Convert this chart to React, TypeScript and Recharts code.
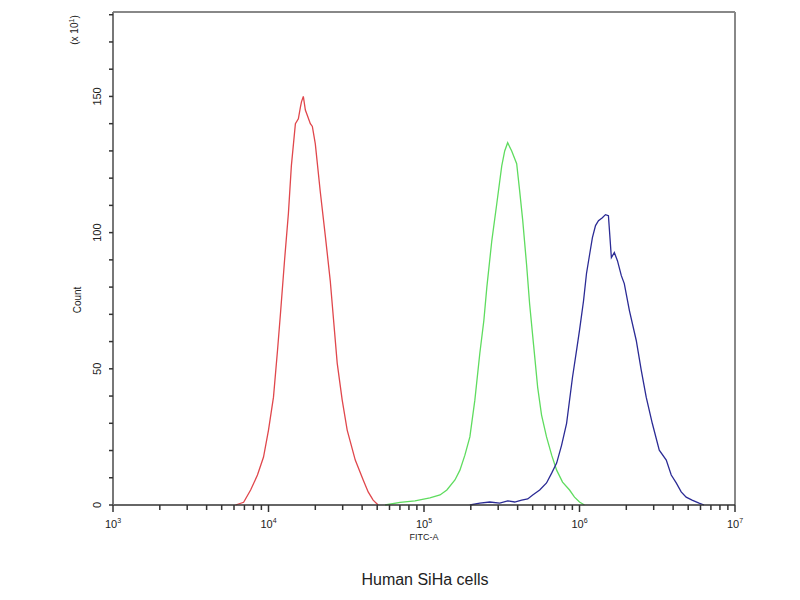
import React from 'react';
import { LineChart, Line, XAxis, YAxis, ReferenceLine } from 'recharts';

// x = log10(FITC-A), y = count (x10^1)
const redX = [3.788, 3.84, 3.885, 3.929, 3.968, 4.0, 4.032, 4.058, 4.077, 4.103, 4.128, 4.147, 4.173, 4.192, 4.205, 4.212, 4.224, 4.237, 4.25, 4.269, 4.282, 4.301, 4.333, 4.365, 4.397, 4.442, 4.474, 4.506, 4.558, 4.609, 4.641, 4.673, 4.705];
const redY = [0, 1, 5.5, 11, 17.6, 27.5, 39.6, 56.8, 70.3, 89.7, 107, 124.5, 140, 141.8, 146, 148, 150, 145, 143, 140, 139, 132.6, 115, 99, 82.4, 52, 38.5, 27.5, 16.5, 9.2, 4.8, 1.8, 0];

const greenX = [4.75, 4.846, 4.942, 5.038, 5.103, 5.147, 5.199, 5.231, 5.263, 5.295, 5.327, 5.359, 5.385, 5.404, 5.436, 5.468, 5.5, 5.519, 5.538, 5.564, 5.596, 5.615, 5.635, 5.66, 5.679, 5.705, 5.731, 5.756, 5.788, 5.821, 5.853, 5.891, 5.936, 5.968, 6.0, 6.032];
const greenY = [0, 1, 1.5, 2.6, 3.7, 5.5, 9.2, 12.8, 18.3, 25, 38.5, 55.7, 67.8, 79.9, 97, 110.6, 124.5, 130, 133, 130, 125.3, 115.4, 104.4, 88, 74, 58.6, 43.2, 33, 25, 18.3, 12.8, 8.4, 5.5, 2.9, 1.1, 0];

const blueX = [5.295, 5.359, 5.423, 5.487, 5.538, 5.583, 5.628, 5.667, 5.699, 5.744, 5.788, 5.821, 5.853, 5.885, 5.917, 5.955, 5.981, 6.0, 6.026, 6.045, 6.064, 6.083, 6.103, 6.122, 6.147, 6.167, 6.186, 6.205, 6.224, 6.244, 6.269, 6.288, 6.321, 6.365, 6.397, 6.429, 6.468, 6.513, 6.558, 6.59, 6.622, 6.654, 6.686, 6.724, 6.769, 6.801];
const blueY = [0, 0.7, 1.1, 0.7, 1.5, 1.1, 1.8, 2.2, 3.7, 5.5, 8.1, 11.7, 15.4, 22, 30, 46.9, 56.8, 64.1, 75, 85, 91.6, 98.2, 102.6, 104.4, 105.5, 106.6, 106.2, 90.8, 92.7, 89.7, 84.2, 81.3, 71.4, 60.4, 49.5, 39.6, 30, 20.1, 16.5, 11, 8.1, 4.8, 2.9, 1.8, 0.7, 0];

const decades = [3, 4, 5, 6, 7];
const yTicks = [0, 10, 20, 30, 40, 50, 60, 70, 80, 90, 100, 110, 120, 130, 140, 150, 160, 170, 180];
const yLabels = [0, 50, 100, 150];

const toPoints = (xs: number[], ys: number[]) => xs.map((x, i) => ({ x, y: ys[i] }));

const xTicks: number[] = [];
decades.forEach((d) => {
  if (d === 7) {
    xTicks.push(7);
    return;
  }
  for (let k = 1; k <= 9; k++) xTicks.push(d + Math.log10(k));
});

const font = '"Liberation Sans", Arial, sans-serif';

const XTick = (props: any) => {
  const { x, y, payload } = props;
  const v = payload.value;
  const major = Math.abs(v - Math.round(v)) < 1e-6;
  return (
    <g>
      <line x1={x} x2={x} y1={y} y2={y + (major ? 7 : 5)} stroke="#333" strokeWidth={1.5} />
      {major && (
        <text x={x} y={y + 23} textAnchor="middle" fontSize={11} fill="#222" stroke="none" fontFamily={font}>
          10
          <tspan dy={-5} fontSize={7}>{Math.round(v)}</tspan>
        </text>
      )}
    </g>
  );
};

const YTick = (props: any) => {
  const { x, y, payload } = props;
  const v = payload.value;
  const lab = yLabels.includes(v);
  return (
    <g>
      <line x1={x} x2={x - 4} y1={y} y2={y} stroke="#333" strokeWidth={1.5} />
      {lab && (
        <text x={x - 12} y={y} transform={`rotate(-90 ${x - 12} ${y})`} textAnchor="middle" fontSize={11} fill="#222" stroke="none" fontFamily={font}>
          {v}
        </text>
      )}
    </g>
  );
};

export default function App() {
  return (
    <div style={{ position: 'absolute', left: 0, top: 0, width: 800, height: 600, background: '#fff' }}>
      <LineChart width={800} height={600} margin={{ top: 12, right: 65, left: 60, bottom: 65 }}>
        <XAxis
          dataKey="x"
          type="number"
          domain={[3, 7]}
          ticks={xTicks}
          interval={0}
          tick={<XTick />}
          tickLine={false}
          tickSize={0}
          tickMargin={0}
          height={30}
          axisLine={{ stroke: '#333', strokeWidth: 1.5 }}
          allowDuplicatedCategory={false}
        />
        <YAxis
          dataKey="y"
          type="number"
          domain={[0, 181]}
          ticks={yTicks}
          interval={0}
          tick={<YTick />}
          tickLine={false}
          tickSize={0}
          tickMargin={0}
          width={53}
          axisLine={{ stroke: '#777', strokeWidth: 2 }}
        />
        <ReferenceLine y={181} stroke="#888" strokeWidth={2} ifOverflow="visible" />
        <ReferenceLine x={7} stroke="#888" strokeWidth={2} ifOverflow="visible" />
        <Line data={toPoints(redX, redY)} dataKey="y" type="linear" stroke="#e0474c" strokeWidth={1.3} dot={false} isAnimationActive={false} />
        <Line data={toPoints(greenX, greenY)} dataKey="y" type="linear" stroke="#5fdc5f" strokeWidth={1.3} dot={false} isAnimationActive={false} />
        <Line data={toPoints(blueX, blueY)} dataKey="y" type="linear" stroke="#2b2b95" strokeWidth={1.3} dot={false} isAnimationActive={false} />
      </LineChart>
      <svg width={800} height={600} style={{ position: 'absolute', left: 0, top: 0, pointerEvents: 'none' }}>
        <text x={81} y={300} transform="rotate(-90 81 300)" textAnchor="middle" fontSize={10} fill="#222" fontFamily={font}>Count</text>
        <text x={78} y={30} transform="rotate(-90 78 30)" textAnchor="middle" fontSize={10} fill="#222" fontFamily={font}>
          (x 10<tspan dy={-4} fontSize={7}>1</tspan><tspan dy={4}>)</tspan>
        </text>
        <text x={424} y={540} textAnchor="middle" fontSize={9} fill="#222" fontFamily={font}>FITC-A</text>
        <text x={425} y={585} textAnchor="middle" fontSize={16} fill="#222" fontFamily={font}>Human SiHa cells</text>
      </svg>
    </div>
  );
}
